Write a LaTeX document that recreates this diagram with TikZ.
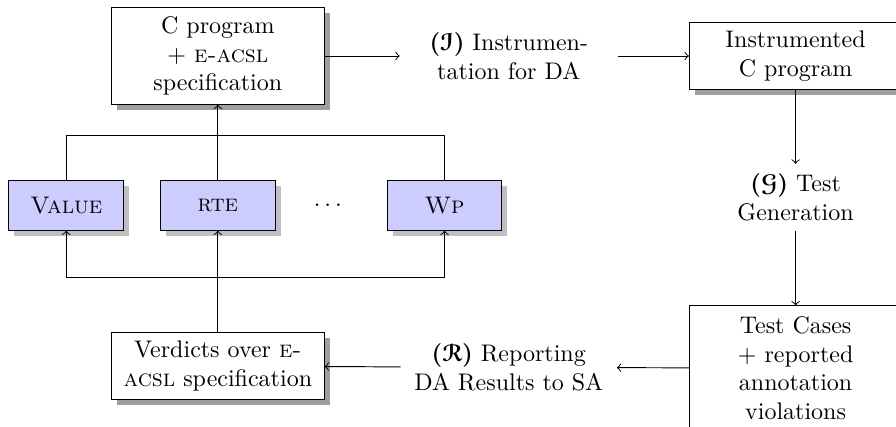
\documentclass[tikz,border=0pt]{standalone}
\usepackage{amsmath,amssymb}
\usepackage[mathscr]{euscript}
\usepackage{tikz}
\usetikzlibrary{shadows}
\newcommand{\phase}[1]{\textbf{(}$\boldsymbol{\mathscr{#1}}$\textbf{)}}
\tikzset{
	artefact/.style={draw, fill=white, align=center, minimum width=3.11cm,
		drop shadow={shadow xshift=0.08cm, shadow yshift=-0.08cm, fill=black!38, opacity=1}},
	tool/.style={draw, fill=blue!20, minimum width=1.68cm, minimum height=0.72cm,
		drop shadow={shadow xshift=0.08cm, shadow yshift=-0.08cm, fill=black!25, opacity=1}},
	stage/.style={align=center, inner sep=0pt},
}

\begin{document}
\begin{tikzpicture}
		%%%%% START %%%%%
		\clip (0, 0) rectangle (13.12, 6.24);
		
		% artefacts
		\node[artefact, minimum height=1.41cm] (spec) at (3.19, 5.42) {C program\\+ \textsc{e-acsl}\\specification};
		\node[artefact, minimum height=0.97cm] (instrprog) at (11.65, 5.42) {Instrumented\\C program};
		\node[artefact, minimum height=1.82cm] (cases) at (11.65, 0.85) {Test Cases\\+ reported\\annotation\\violations};
		\node[artefact, minimum height=0.97cm] (verdicts) at (3.19, 0.88) {Verdicts over \textsc{e-}\\\textsc{acsl} specification};
		
		% stages
		\node[stage, minimum width=3.18cm] (instr) at (7.45, 5.42) {\phase{I} Instrumen-\\tation for DA};
		\node[stage, minimum height=0.97cm] (testgen) at (11.65, 3.35) {\phase{G} Test\\Generation};
		\node[stage, minimum width=3.15cm] (report) at (7.45, 0.86) {\phase{R} Reporting\\DA Results to SA};
		
		% static analysers
		\node[tool] (value) at (0.97, 3.23) {\textsc{Value}};
		\node[tool] (rte) at (3.19, 3.23) {\textsc{rte}};
		\node (more) at (4.80, 3.23) {$\ldots$};
		\node[tool] (wp) at (6.51, 3.23) {\textsc{Wp}};
		
		\coordinate (topbus) at (3.19, 4.26);
		\coordinate (botbus) at (3.19, 2.18);
		
		% main loop
		\draw[->] (spec) -- (instr);
		\draw[->] (instr) -- (instrprog);
		\draw[->] (instrprog) -- (testgen);
		\draw[->] (testgen) -- (cases);
		\draw[->] (cases) -- (report);
		\draw[->] (report) -- (verdicts);
		
		% back to the analysers
		\draw (value) |- (topbus) -| (wp);
		\draw[->] (rte) -- (spec);
		\draw[->] (verdicts) -- (rte);
		\draw[->] (botbus) -| (value);
		\draw[->] (botbus) -| (wp);
		
		%%%%% END %%%%%
\end{tikzpicture}
\end{document}
